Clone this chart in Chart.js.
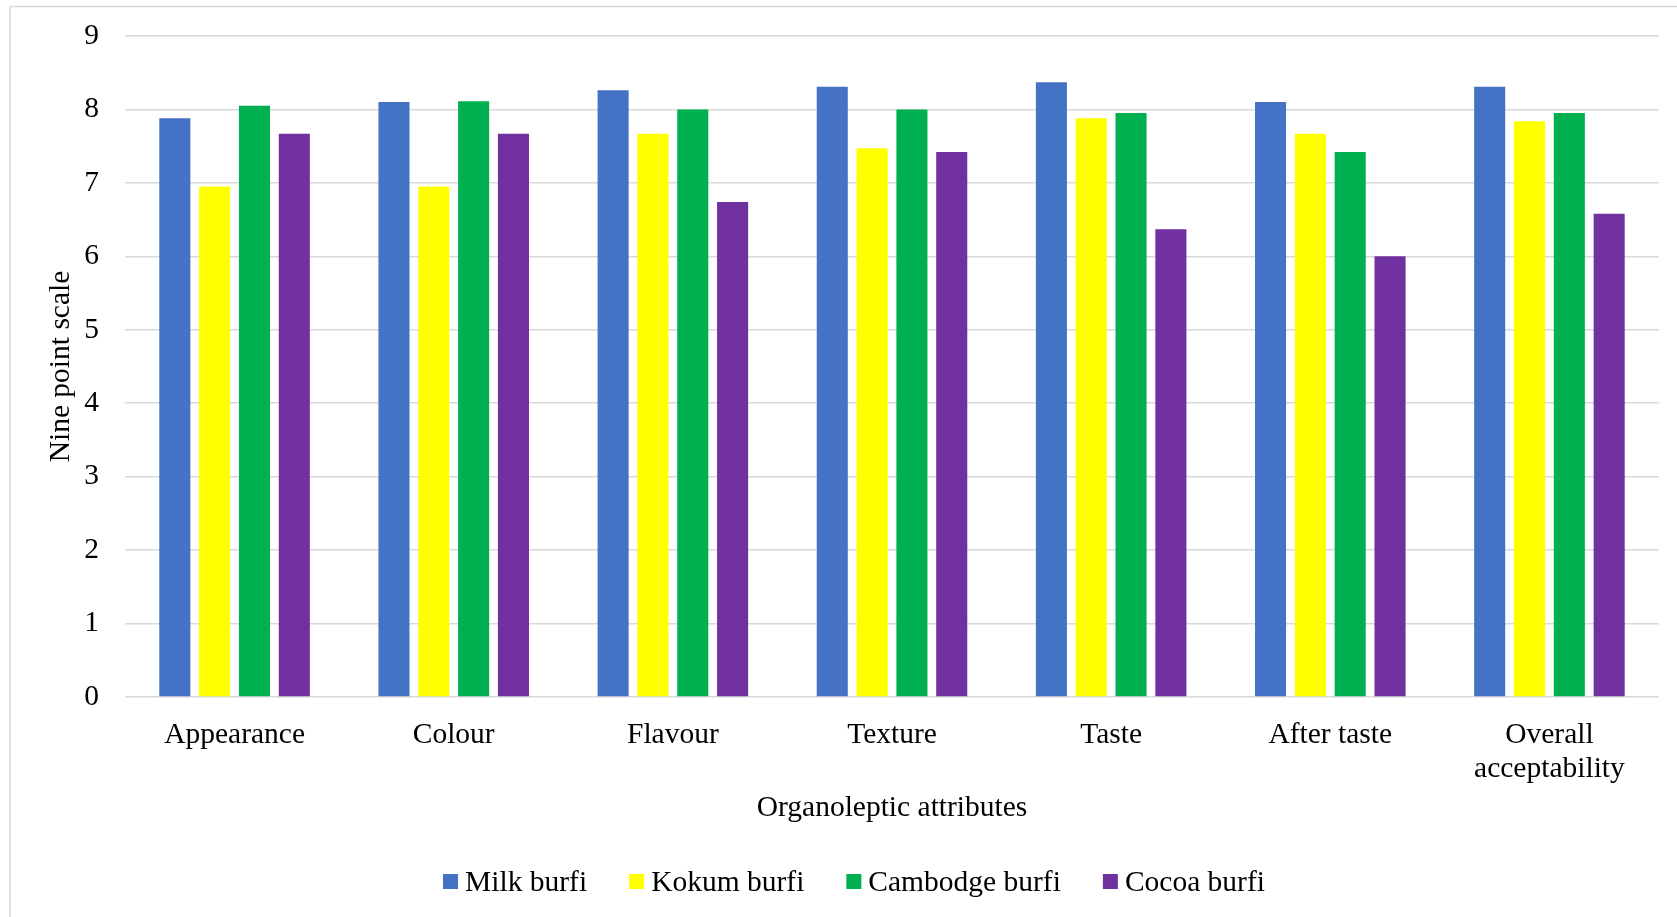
<!DOCTYPE html>
<html>
<head>
<meta charset="utf-8">
<title>Organoleptic attributes of burfi</title>
<script src="https://cdn.jsdelivr.net/npm/chart.js@4/dist/chart.umd.min.js"></script>
<style>
  body { margin: 0; background: #fff; }
  canvas { display: block; }
</style>
</head>
<body>
<canvas id="graficoBurfi" width="1677" height="917"></canvas>
<script>
// atributos avaliados
const atributos = ['Appearance', 'Colour', 'Flavour', 'Texture', 'Taste', 'After taste', ['Overall', 'acceptability']];

// notas médias (escala hedônica de nove pontos)
const milkBurfi = [7.88, 8.10, 8.26, 8.31, 8.37, 8.10, 8.31];
const kokumBurfi = [6.95, 6.95, 7.67, 7.47, 7.88, 7.67, 7.84];
const cambodgeBurfi = [8.05, 8.11, 8.00, 8.00, 7.95, 7.42, 7.95];
const cocoaBurfi = [7.67, 7.67, 6.74, 7.42, 6.37, 6.00, 6.58];

const fonte = "'Liberation Serif', 'Times New Roman', serif";
const tamanho = 29.5;
const cinza = '#d9d9d9';

// moldura cinza (só topo e esquerda aparecem)
const moldura = {
    id: 'moldura',
    beforeDraw(chart) {
        const ctx = chart.ctx;
        ctx.save();
        ctx.strokeStyle = cinza;
        ctx.lineWidth = 1.5;
        ctx.beginPath();
        ctx.moveTo(10, chart.height);
        ctx.lineTo(10, 6.5);
        ctx.lineTo(chart.width, 6.5);
        ctx.stroke();
        ctx.restore();
    }
};

// legenda desenhada à mão, caixa colada no texto
const legenda = {
    id: 'legenda',
    afterDraw(chart) {
        const ctx = chart.ctx;
        const caixa = 15, espaco = 7, entre = 42;
        ctx.save();
        ctx.font = tamanho + 'px ' + fonte;
        const itens = chart.data.datasets.map(ds => ({
            texto: ds.label,
            cor: ds.backgroundColor,
            largura: caixa + espaco + ctx.measureText(ds.label).width
        }));
        const total = itens.reduce((s, i) => s + i.largura, 0) + entre * (itens.length - 1);
        let x = 854 - total / 2;
        const y = 881.5;
        itens.forEach(item => {
            ctx.fillStyle = item.cor;
            ctx.fillRect(x, y - caixa / 2, caixa, caixa);
            ctx.fillStyle = '#000';
            ctx.textBaseline = 'alphabetic';
            ctx.fillText(item.texto, x + caixa + espaco, y + 9.5);
            x += item.largura + entre;
        });
        ctx.restore();
    }
};

const graficoBurfi = document.getElementById('graficoBurfi');
const graficoParaBurfi = new Chart(graficoBurfi, {
    type: 'bar',
    data: {
        labels: atributos,
        datasets: [
            { label: 'Milk burfi', data: milkBurfi, backgroundColor: '#4472c4' },
            { label: 'Kokum burfi', data: kokumBurfi, backgroundColor: '#ffff00' },
            { label: 'Cambodge burfi', data: cambodgeBurfi, backgroundColor: '#00b050' },
            { label: 'Cocoa burfi', data: cocoaBurfi, backgroundColor: '#7030a0' }
        ]
    },
    options: {
        responsive: false,
        animation: false,
        devicePixelRatio: 1,
        categoryPercentage: 0.727,
        barPercentage: 0.78,
        layout: { padding: { left: 10, right: 18, top: 36, bottom: 88 } },
        plugins: {
            legend: { display: false },
            tooltip: { enabled: false }
        },
        scales: {
            x: {
                grid: { display: false },
                border: { display: false },
                ticks: {
                    color: '#000',
                    padding: 13,
                    maxRotation: 0,
                    autoSkip: false,
                    font: { family: fonte, size: tamanho, lineHeight: 34 / tamanho }
                },
                title: {
                    display: true,
                    text: 'Organoleptic attributes',
                    color: '#000',
                    padding: { top: 0, bottom: 3 },
                    font: { family: fonte, size: tamanho }
                },
                afterFit: escala => { escala.height = 132; }
            },
            y: {
                min: 0,
                max: 9,
                // marca invisível faz o recuo dos números sem empurrar a área do gráfico
                grid: { color: cinza, lineWidth: 1.5, tickLength: 26, tickColor: 'rgba(0,0,0,0)' },
                border: { display: false },
                ticks: {
                    stepSize: 1,
                    color: '#000',
                    padding: 0,
                    font: { family: fonte, size: tamanho }
                },
                title: {
                    display: true,
                    text: 'Nine point scale',
                    color: '#000',
                    padding: { top: 34, bottom: 0 },
                    font: { family: fonte, size: tamanho }
                },
                afterFit: escala => { escala.width = 115; }
            }
        }
    },
    plugins: [moldura, legenda]
});
</script>
</body>
</html>
